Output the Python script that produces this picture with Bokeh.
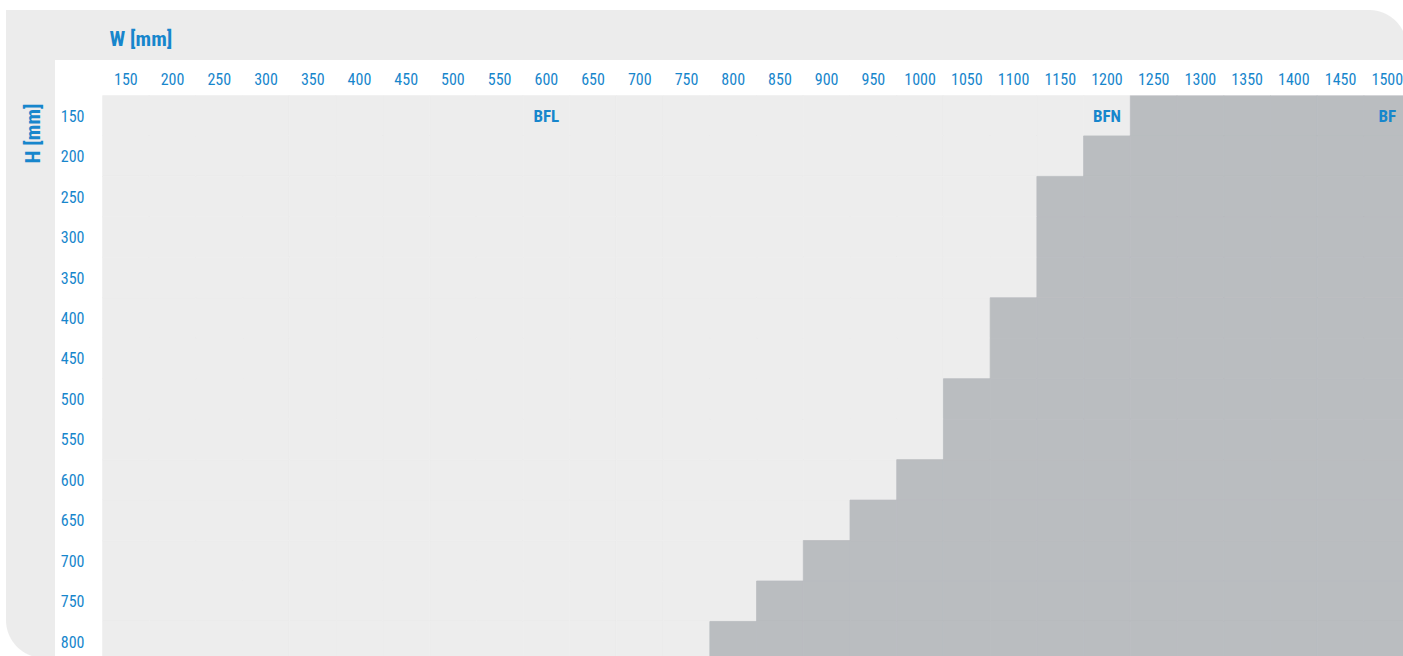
import math
from bokeh.plotting import figure
from bokeh.models import Range1d, FixedTicker, Title, ColumnDataSource
from bokeh.core.properties import value
from bokeh.embed import file_html
from bokeh.resources import INLINE

# ---- data -------------------------------------------------------------
widths_mm = [150, 200, 250, 300, 350, 400, 450, 500, 550, 600, 650, 700, 750,
             800, 850, 900, 950, 1000, 1050, 1100, 1150, 1200, 1250, 1300,
             1350, 1400, 1450, 1500]
heights_mm = [150, 200, 250, 300, 350, 400, 450, 500, 550, 600, 650, 700, 750, 800]
# smallest width (per height row) from which the BF type applies
bf_start_width = [1250, 1200, 1150, 1150, 1150, 1100, 1100, 1050, 1050,
                  1000, 950, 900, 850, 800]
zone_labels = ["BFL", "BFN", "BF"]
zone_label_w = [600, 1200, 1500]
zone_label_h = [150, 150, 150]

# ---- style ------------------------------------------------------------
BLUE = "#1786cc"
LIGHT = "#ededed"
DARK = "#babdc0"
PANEL = "#ececec"
FONT = "Roboto Condensed"

W_PX, H_PX = 1403, 656
LEFT, TOP = 102, 95
COL_PX, ROW_PX = 46.72, 40.46
STEP = 50

x0 = widths_mm[0] - STEP / 2
y0 = heights_mm[0] - STEP / 2
x1 = x0 + (W_PX - LEFT) / COL_PX * STEP
y1 = y0 + (H_PX - TOP) / ROW_PX * STEP

cw, ch, cc = [], [], []
for h, start in zip(heights_mm, bf_start_width):
    for w in widths_mm:
        cw.append(w)
        ch.append(h)
        cc.append(DARK if w >= start else LIGHT)
src = ColumnDataSource(dict(w=cw, h=ch, color=cc))

# decorative rounded card with white header band (page background)
card_bg = ", ".join([
    "linear-gradient(#fff,#fff) 55px 60px / 1348px 596px no-repeat",
    f"linear-gradient({PANEL},{PANEL}) 6px 10px / 1363px 610px no-repeat",
    f"linear-gradient({PANEL},{PANEL}) 44px 48px / 1359px 608px no-repeat",
    f"radial-gradient(circle at 0 100%, {PANEL} 37.5px, transparent 38.5px) 1369px 10px / 38px 38px no-repeat",
    f"radial-gradient(circle at 100% 0, {PANEL} 37.5px, transparent 38.5px) 6px 620px / 38px 38px no-repeat",
    "#fff",
])

p = figure(width=W_PX, height=H_PX, title="W [mm]",
           x_range=Range1d(x0, x1), y_range=Range1d(y1, y0),
           x_axis_location="above",
           output_backend="svg", toolbar_location=None,
           min_border_left=LEFT, min_border_top=TOP,
           min_border_right=0, min_border_bottom=0,
           border_fill_alpha=0, background_fill_color=LIGHT,
           outline_line_color=None,
           styles={"background": card_bg})
p.grid.visible = False

p.title.align = "left"
p.title.offset = 7
p.title.standoff = 37
p.title.text_font = FONT
p.title.text_font_size = "21px"
p.title.text_font_style = "bold"
p.title.text_color = BLUE

p.add_layout(Title(text="H [mm]", align="right", offset=8, standoff=25,
                   text_font=FONT, text_font_size="21px", text_font_style="bold",
                   text_color=BLUE), "left")

p.rect(x="w", y="h", width=STEP, height=STEP, source=src,
       fill_color="color", line_color="color", line_width=0.8)

p.text(x=zone_label_w, y=zone_label_h, text=zone_labels,
       text_font=value(FONT), text_font_style="bold", text_font_size="17px",
       text_color=BLUE, text_align="center", text_baseline="middle")

for ax in (p.xaxis[0], p.yaxis[0]):
    ax.axis_line_color = None
    ax.major_tick_line_color = None
    ax.minor_tick_line_color = None
    ax.major_tick_out = 0
    ax.major_tick_in = 0
    ax.major_label_text_color = BLUE
    ax.major_label_text_font = FONT
    ax.major_label_text_font_size = "16px"
p.xaxis[0].ticker = FixedTicker(ticks=widths_mm)
p.yaxis[0].ticker = FixedTicker(ticks=heights_mm)
p.xaxis[0].major_label_standoff = 11
p.yaxis[0].major_label_standoff = 18

open("out.html", "w").write(file_html(p, INLINE))
